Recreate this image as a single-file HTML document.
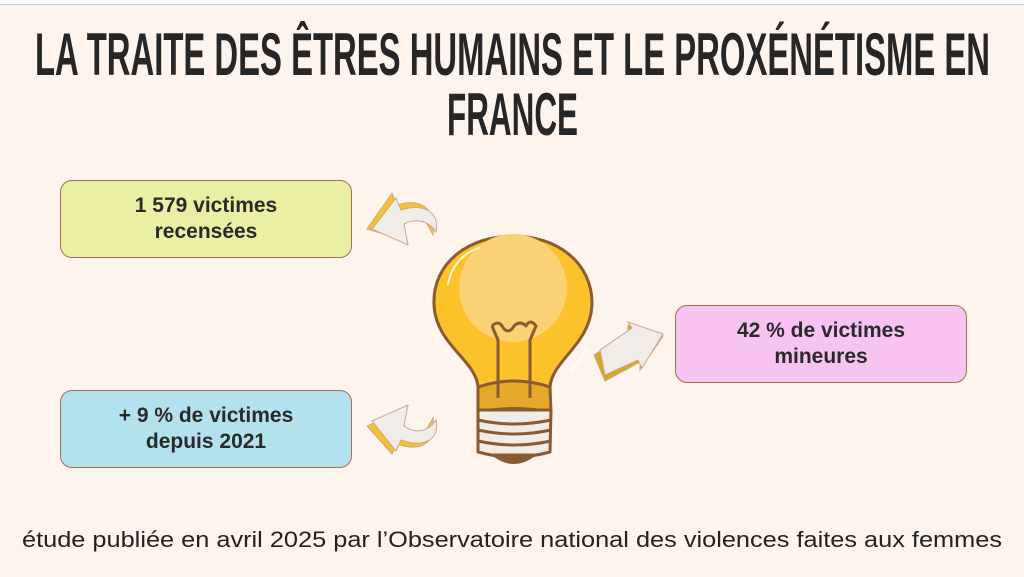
<!DOCTYPE html>
<html><head><meta charset="utf-8"><style>
body{margin:0;width:1024px;height:577px;background:#fdf4ee;overflow:hidden;position:relative;font-family:"Liberation Sans",sans-serif}
.top{position:absolute;left:0;top:0;width:1024px;height:4px;background:#fafafa;border-bottom:1px solid #c8c8c8}
.box{position:absolute;width:290px;height:76px;border:1.5px solid #a07050;border-radius:12px;display:flex;align-items:center;justify-content:center;text-align:center;font-weight:bold;font-size:21px;line-height:26px;color:#2a2a2a}
</style></head><body>
<div class="top"></div>
<div class="box" style="left:60px;top:180px;background:#ebefa3">1 579 victimes<br>recensées</div>
<div class="box" style="left:675px;top:305px;background:#f8c3f0">42 % de victimes<br>mineures</div>
<div class="box" style="left:60px;top:390px;background:#b3e2ee">+ 9 % de victimes<br>depuis 2021</div>
<svg style="position:absolute;left:0;top:0" width="1024" height="577">
<g font-family="Liberation Sans, sans-serif" font-weight="bold" fill="#262626" font-size="60">
<text x="35" y="75" textLength="955" lengthAdjust="spacingAndGlyphs">LA TRAITE DES ÊTRES HUMAINS ET LE PROXÉNÉTISME EN</text>
<text x="447" y="135" textLength="131" lengthAdjust="spacingAndGlyphs">FRANCE</text>
</g>
<text x="22" y="547" font-family="Liberation Sans, sans-serif" font-size="22" fill="#222" textLength="980" lengthAdjust="spacingAndGlyphs">étude publiée en avril 2025 par l’Observatoire national des violences faites aux femmes</text>
<!-- arrows -->
<g stroke="#c9a98a" stroke-width="1">
<path d="M367 229 L392 193 L397 205 C420 198 436 207 433 235 L425 220 C418 212 408 215 400 222 L404 240 Z" fill="#f5c12e"/>
<path d="M372 229 L396 198 L401 210 C424 203 440 212 436 232 C428 220 415 218 404 224 L408 245 Z" fill="#f2ece8"/>
<path d="M367 426 L392 454 L397 444 C420 452 436 445 433 418 L425 432 C418 440 408 436 400 428 L404 410 Z" fill="#f5c12e"/>
<path d="M372 421 L396 451 L401 440 C424 448 440 440 436 420 C428 432 415 434 404 426 L408 405 Z" fill="#f2ece8"/>
<path d="M594 355 L628 332 L628 325 L663 336 L640 370 L640 362 L605 381 Z" fill="#d9a620"/>
<path d="M600 350 L632 328 L628 322 L663 334 L642 368 L638 360 L605 375 Z" fill="#f2ece8"/>
</g>
<!-- bulb -->
<g stroke="#8a5a30" stroke-width="3" stroke-linejoin="round">
<path d="M478 387 C476 360 436 345 434 305 C432 262 470 236 513 236 C556 236 593 262 592 305 C590 345 552 360 550 387 Z" fill="#fbc22a"/>
<circle cx="513" cy="288" r="54" fill="#f8d274" stroke="none"/>
<path d="M478 387 Q514 375 550 387 L551 412 Q514 405 478 412 Z" fill="#e4a92a"/>
<path d="M492 326 Q498 320 502 326 Q508 336 514 326 Q520 320 526 326 Q530 318 536 326 L530 340 L530 398 M492 326 L498 340 L498 398" fill="none"/>
<path d="M478 410 L551 410 L550 452 Q514 462 478 452 Z" fill="#f2ece8"/>
<path d="M478 420 Q514 428 551 420 M478 430 Q514 438 551 430 M478 441 Q514 449 551 441" fill="none"/>
<path d="M494 455 Q514 470 534 455 Z" fill="#8a5a30"/>
</g>
<path d="M448 285 Q452 258 480 247" stroke="#fff" stroke-width="2" fill="none" opacity=".8"/>
<path d="M570 373 L588 348" stroke="#fff" stroke-width="2" fill="none" opacity=".8"/>
</svg>
</body></html>
